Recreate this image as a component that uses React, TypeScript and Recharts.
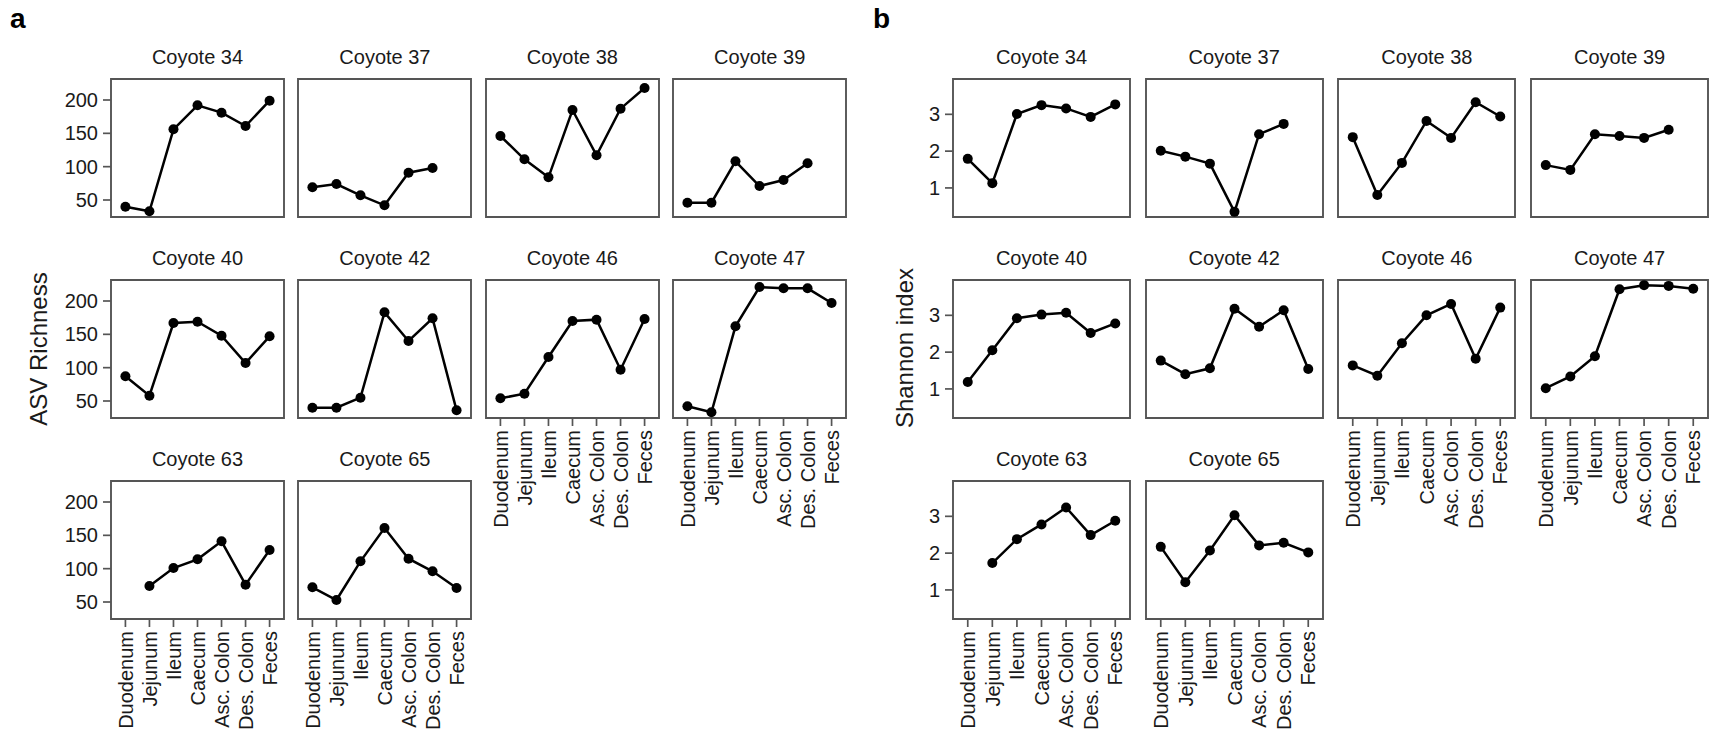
import React from "react";
import { LineChart, Line, XAxis, YAxis, ReferenceArea } from "recharts";

const SITES = ["Duodenum", "Jejunum", "Ileum", "Caecum", "Asc. Colon", "Des. Colon", "Feces"];
const COYOTES = [
  "Coyote 34", "Coyote 37", "Coyote 38", "Coyote 39", "Coyote 40",
  "Coyote 42", "Coyote 46", "Coyote 47", "Coyote 63", "Coyote 65",
];

// ASV richness, one array per coyote (null = sample missing)
const rich34 = [40, 33, 156, 192, 181, 161, 199];
const rich37 = [69, 74, 57, 42, 91, 98, null];
const rich38 = [146, 111, 84, 185, 117, 187, 218];
const rich39 = [46, 46, 108, 71, 80, 105, null];
const rich40 = [87, 58, 167, 169, 148, 107, 147];
const rich42 = [40, 40, 55, 183, 140, 174, 36];
const rich46 = [54, 61, 116, 170, 172, 97, 173];
const rich47 = [42, 33, 162, 221, 219, 219, 197];
const rich63 = [null, 74, 101, 114, 141, 76, 128];
const rich65 = [72, 53, 111, 161, 115, 96, 71];

// Shannon index
const sh34 = [1.79, 1.13, 3.01, 3.25, 3.16, 2.93, 3.27];
const sh37 = [2.01, 1.85, 1.66, 0.35, 2.46, 2.74, null];
const sh38 = [2.38, 0.81, 1.68, 2.82, 2.36, 3.33, 2.94];
const sh39 = [1.62, 1.49, 2.46, 2.41, 2.36, 2.58, null];
const sh40 = [1.19, 2.05, 2.92, 3.02, 3.07, 2.52, 2.78];
const sh42 = [1.77, 1.4, 1.56, 3.18, 2.69, 3.14, 1.54];
const sh46 = [1.64, 1.36, 2.24, 3.0, 3.31, 1.82, 3.21];
const sh47 = [1.02, 1.34, 1.89, 3.71, 3.82, 3.8, 3.72];
const sh63 = [null, 1.73, 2.38, 2.78, 3.24, 2.49, 2.88];
const sh65 = [2.17, 1.21, 2.07, 3.03, 2.21, 2.28, 2.02];

const RICHNESS = [rich34, rich37, rich38, rich39, rich40, rich42, rich46, rich47, rich63, rich65];
const SHANNON = [sh34, sh37, sh38, sh39, sh40, sh42, sh46, sh47, sh63, sh65];

const RICH_TICKS = [50, 100, 150, 200];
const SH_TICKS = [1, 2, 3];

const FONT = '"Liberation Sans", Arial, Helvetica, sans-serif';
const TEXT = "#1a1a1a";
const BORDER = "#555";

const X_DOMAIN: [number, number] = [-0.6, 6.6];
const X_TICKS = [0, 1, 2, 3, 4, 5, 6];

const PANEL_H = 138;
const ROW_TOPS = [79, 280, 481];
const PAD_L = 70;
const PAD_R = 6;
const PAD_T = 6;
const PAD_B = 125;

const XTick = (props: any) => {
  const { x, y, payload } = props;
  return (
    <text
      x={x}
      y={y}
      transform={`rotate(-90, ${x}, ${y})`}
      textAnchor="end"
      dy="0.36em"
      fontSize={20}
      fontFamily={FONT}
      fill={TEXT}
    >
      {SITES[payload.value]}
    </text>
  );
};

function Panel({ values, yDomain, yTicks, showY, showX, left, top, width }: any) {
  const data = values
    .map((v: number | null, i: number) => ({ x: i, y: v }))
    .filter((d: any) => d.y !== null);
  return (
    <div style={{ position: "absolute", left: left - PAD_L, top: top - PAD_T }}>
      <LineChart
        width={PAD_L + width + PAD_R}
        height={PAD_T + PANEL_H + PAD_B}
        data={data}
        margin={{ top: PAD_T, right: PAD_R, bottom: 0, left: 0 }}
      >
        <XAxis
          type="number"
          dataKey="x"
          domain={X_DOMAIN}
          ticks={X_TICKS}
          interval={0}
          height={PAD_B}
          axisLine={false}
          tickSize={8}
          tickMargin={4}
          tickLine={showX ? { stroke: BORDER, strokeWidth: 1.7 } : false}
          tick={showX ? (p: any) => <XTick {...p} /> : false}
        />
        <YAxis
          type="number"
          domain={yDomain}
          ticks={yTicks}
          interval={0}
          width={PAD_L}
          axisLine={false}
          tickSize={8}
          tickMargin={5}
          tickLine={showY ? { stroke: BORDER, strokeWidth: 1.7 } : false}
          tick={showY ? { fill: TEXT, fontSize: 20, fontFamily: FONT } : false}
        />
        <ReferenceArea
          x1={X_DOMAIN[0]}
          x2={X_DOMAIN[1]}
          y1={yDomain[0]}
          y2={yDomain[1]}
          fill="none"
          stroke={BORDER}
          strokeWidth={1.9}
          ifOverflow="visible"
        />
        <Line
          dataKey="y"
          stroke="#000"
          strokeWidth={2.5}
          dot={{ r: 5, fill: "#000", stroke: "none" }}
          activeDot={false}
          isAnimationActive={false}
        />
      </LineChart>
    </div>
  );
}

function Facets({ series, yDomain, yTicks, firstLeft, step, width }: any) {
  return (
    <>
      {series.map((values: any, i: number) => {
        const row = Math.floor(i / 4);
        const col = i % 4;
        const showX = row === 2 || (row === 1 && col >= 2);
        return (
          <Panel
            key={i}
            values={values}
            yDomain={yDomain}
            yTicks={yTicks}
            showY={col === 0}
            showX={showX}
            left={firstLeft + col * step}
            top={ROW_TOPS[row]}
            width={width}
          />
        );
      })}
    </>
  );
}

const A_LEFT = 111;
const A_STEP = 187.4;
const A_W = 173;
const B_LEFT = 953;
const B_STEP = 192.7;
const B_W = 177;

export default function App() {
  const titles = (firstLeft: number, step: number, width: number) =>
    COYOTES.map((name, i) => {
      const row = Math.floor(i / 4);
      const col = i % 4;
      return (
        <text
          key={name + firstLeft}
          x={firstLeft + col * step + width / 2}
          y={ROW_TOPS[row] - 15}
          textAnchor="middle"
          fontSize={20}
          fontFamily={FONT}
          fill={TEXT}
        >
          {name}
        </text>
      );
    });

  return (
    <div
      style={{
        position: "absolute",
        left: 0,
        top: 0,
        width: 1717,
        height: 738,
        background: "#fff",
        overflow: "hidden",
      }}
    >
      <svg width={1717} height={738} style={{ position: "absolute", left: 0, top: 0 }}>
        <text x={10} y={28} fontSize={28} fontWeight="bold" fontFamily={FONT} fill="#000">
          a
        </text>
        <text x={873} y={28} fontSize={28} fontWeight="bold" fontFamily={FONT} fill="#000">
          b
        </text>
        <text
          x={47}
          y={349}
          transform="rotate(-90, 47, 349)"
          textAnchor="middle"
          fontSize={24}
          fontFamily={FONT}
          fill={TEXT}
        >
          ASV Richness
        </text>
        <text
          x={913}
          y={348}
          transform="rotate(-90, 913, 348)"
          textAnchor="middle"
          fontSize={24}
          fontFamily={FONT}
          fill={TEXT}
        >
          Shannon index
        </text>
        {titles(A_LEFT, A_STEP, A_W)}
        {titles(B_LEFT, B_STEP, B_W)}
      </svg>
      <Facets series={RICHNESS} yDomain={[24.5, 231.5]} yTicks={RICH_TICKS} firstLeft={A_LEFT} step={A_STEP} width={A_W} />
      <Facets series={SHANNON} yDomain={[0.21, 3.96]} yTicks={SH_TICKS} firstLeft={B_LEFT} step={B_STEP} width={B_W} />
    </div>
  );
}
